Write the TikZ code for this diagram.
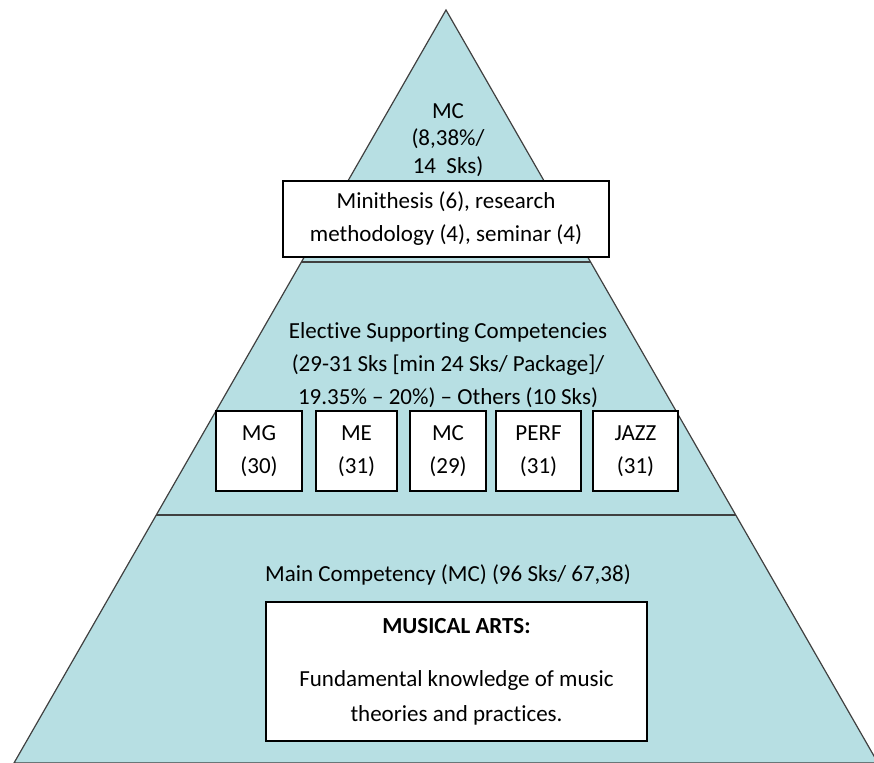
\documentclass[tikz,border=0pt]{standalone}
\usepackage{fontspec}
\setmainfont{Carlito}[Ligatures=NoCommon]
\usetikzlibrary{shapes}
\definecolor{pyrfill}{RGB}{183,223,227}
\definecolor{pyrline}{RGB}{64,64,64}
\tikzstyle{layer} = [fill=pyrfill, draw=pyrline, line width=1.2pt, line join=miter]
\tikzstyle{divider} = [draw=pyrline, line width=1.4pt]
\tikzstyle{leveltext} = [align=center, inner sep=0pt, font=\fontsize{23}{33}\selectfont]
\tikzstyle{whitebox} = [draw=black, fill=white, line width=1.3pt, align=center, inner sep=0pt, font=\fontsize{23}{33}\selectfont]
\tikzstyle{pkgbox} = [whitebox, minimum height=80]

\begin{document}
\begin{tikzpicture}[x=1pt, y=-1pt]
\useasboundingbox (0,0) rectangle (874,762);
% pyramid outline and layer borders
\coordinate (apex) at (446,10);
\coordinate (topL) at (301,262);
\coordinate (topR) at (591,262);
\coordinate (midL) at (156,515);
\coordinate (midR) at (736,515);
\coordinate (baseL) at (14,763);
\coordinate (baseR) at (878,763);
\filldraw[layer] (apex) -- (baseL) -- (baseR) -- cycle;
\draw[divider] (topL) -- (topR);
\draw[divider] (midL) -- (midR);

% top layer
\node[leveltext, font=\fontsize{23}{27.5}\selectfont] (mctop) at (448,140) {MC\\(8,38\%/\\14~~Sks)};
\node[whitebox, minimum width=326, minimum height=76] (thesis) at (446,219) {Minithesis (6), research\\methodology (4), seminar (4)};

% middle layer
\node[leveltext] (elective) at (448,365) {Elective Supporting Competencies\\(29-31 Sks [min 24 Sks/ Package]/\\19.35\% -- 20\%) -- Others (10 Sks)};
\node[pkgbox, minimum width=86] (mg) at (259,451) {MG\\(30)};
\node[pkgbox, minimum width=81] (me) at (356.5,451) {ME\\(31)};
\node[pkgbox, minimum width=76] (mcpkg) at (448,451) {MC\\(29)};
\node[pkgbox, minimum width=85] (perf) at (538.5,451) {PERF\\(31)};
\node[pkgbox, minimum width=85] (jazz) at (635.5,451) {JAZZ\\(31)};

% bottom layer
\node[leveltext] (main) at (448,575) {Main Competency (MC) (96 Sks/ 67,38)};
\node[whitebox, minimum width=381, minimum height=139, line width=1.6pt, font=\fontsize{23}{35}\selectfont] (arts) at (456.5,671.5) {\textbf{MUSICAL ARTS:}\\[18pt]Fundamental knowledge of music\\theories and practices.};
\end{tikzpicture}
\end{document}
